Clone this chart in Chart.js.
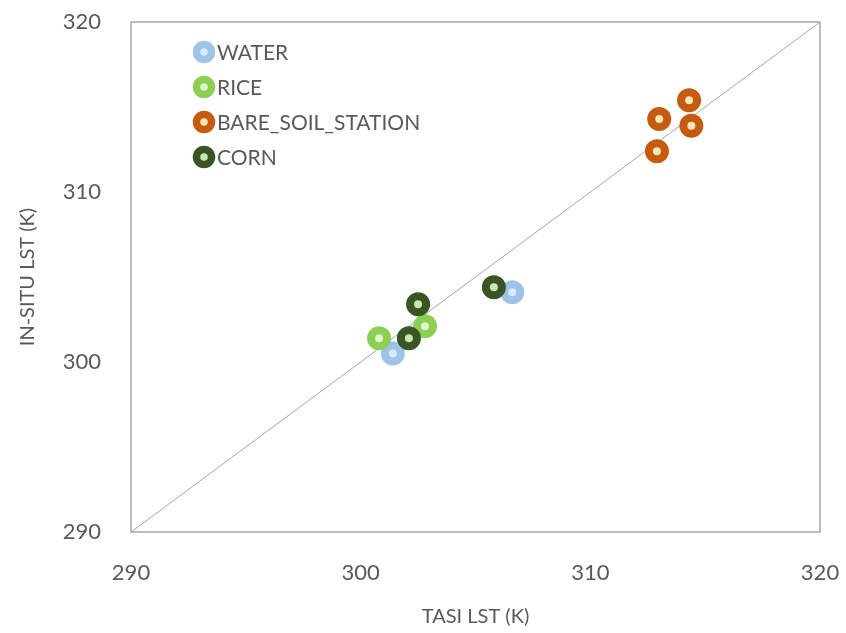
<!DOCTYPE html>
<html>
<head>
<meta charset="utf-8">
<script src="https://cdn.jsdelivr.net/npm/chart.js@4/dist/chart.umd.min.js"></script>
<style>
html,body{margin:0;padding:0;background:#fff;}
#wrap{width:846px;height:633px;}
</style>
</head>
<body>
<div id="wrap"><canvas id="c" width="846" height="633"></canvas></div>
<script>
const seriesNames = ["WATER", "RICE", "BARE_SOIL_STATION", "CORN"];
const waterX = [306.6, 301.4];
const waterY = [304.1, 300.5];
const riceX = [300.8, 302.8];
const riceY = [301.4, 302.1];
const soilX = [314.3, 313.0, 314.4, 312.9];
const soilY = [315.4, 314.3, 313.9, 312.4];
const cornX = [302.5, 302.1, 305.8];
const cornY = [303.4, 301.4, 304.4];
const lineX = [290, 320];
const lineY = [290, 320];
const axisTicks = [290, 300, 310, 320];
const xTitle = "TASI LST (K)";
const yTitle = "IN-SITU LST (K)";

const colors = ["#9DC3E6", "#8CCF52", "#C55A11", "#375623"];
const fills = ["#DCEAF7", "#E2F5C8", "#FBE5B0", "#C9E6B0"];

function pts(xs, ys){ return xs.map((x,i)=>({x:x, y:ys[i]})); }

const datasets = [
  {label: seriesNames[0], data: pts(waterX, waterY)},
  {label: seriesNames[1], data: pts(riceX, riceY)},
  {label: seriesNames[2], data: pts(soilX, soilY)},
  {label: seriesNames[3], data: pts(cornX, cornY)}
].map((d,i)=>Object.assign(d, {
  type: 'scatter',
  borderColor: colors[i],
  backgroundColor: fills[i],
  pointRadius: 8,
  pointBorderWidth: 8,
  pointHoverRadius: 8,
  order: 4 - i
}));

datasets.unshift({
  label: "1:1",
  type: 'line',
  data: pts(lineX, lineY),
  borderColor: "#A6A6A6",
  borderWidth: 1,
  pointRadius: 0,
  fill: false,
  order: 10,
  isRef: true
});

const font = "Lato, 'Open Sans', sans-serif";

const boxPlugin = {
  id: 'boxAndLegend',
  beforeDatasetsDraw(chart){
    const a = chart.chartArea, ctx = chart.ctx;
    ctx.save();
    ctx.strokeStyle = "#A6A6A6";
    ctx.lineWidth = 1.5;
    ctx.strokeRect(a.left, a.top, a.right - a.left, a.bottom - a.top);
    ctx.restore();
  },
  afterDraw(chart){
    const a = chart.chartArea, ctx = chart.ctx;
    ctx.save();
    let y0 = a.top + 30;
    let i = 0;
    chart.data.datasets.forEach(ds => {
      if (ds.isRef) return;
      const cy = y0 + i * 35;
      const cx = a.left + 73;
      ctx.beginPath();
      ctx.arc(cx, cy, 7.5, 0, Math.PI*2);
      ctx.fillStyle = ds.backgroundColor;
      ctx.fill();
      ctx.lineWidth = 7.5;
      ctx.strokeStyle = ds.borderColor;
      ctx.stroke();
      ctx.fillStyle = "#595959";
      ctx.font = "21px " + font;
      ctx.textBaseline = "middle";
      ctx.textAlign = "left";
      ctx.fillText(ds.label, cx + 13, cy + 1);
      i++;
    });
    ctx.restore();
  }
};

new Chart(document.getElementById('c'), {
  type: 'scatter',
  data: {datasets},
  options: {
    responsive: false,
    animation: false,
    events: [],
    layout: {padding: {top: 22, right: 26, left: 0, bottom: 0}},
    plugins: {legend: {display: false}, tooltip: {enabled: false}},
    scales: {
      x: {
        type: 'linear', min: 290, max: 320,
        afterBuildTicks(s){ s.ticks = axisTicks.map(v=>({value:v})); },
        afterFit(s){ s.height = 101; s.paddingLeft = 0; s.paddingRight = 0; },
        grid: {display: false, drawTicks: false},
        border: {display: false},
        ticks: {color: "#595959", font: {size: 22, family: font}, padding: 28, maxRotation: 0},
        title: {display: true, text: xTitle, color: "#595959", font: {size: 20, family: font}, padding: {top: 4}}
      },
      y: {
        type: 'linear', min: 290, max: 320,
        afterBuildTicks(s){ s.ticks = axisTicks.map(v=>({value:v})); },
        afterFit(s){ s.width = 131; s.paddingTop = 0; s.paddingBottom = 0; },
        grid: {display: false, drawTicks: false},
        border: {display: false},
        ticks: {color: "#595959", font: {size: 22, family: font}, padding: 30},
        title: {display: true, text: yTitle, color: "#595959", font: {size: 20, family: font}, padding: {top: 16, bottom: 0}}
      }
    }
  },
  plugins: [boxPlugin]
});
</script>
</body>
</html>
